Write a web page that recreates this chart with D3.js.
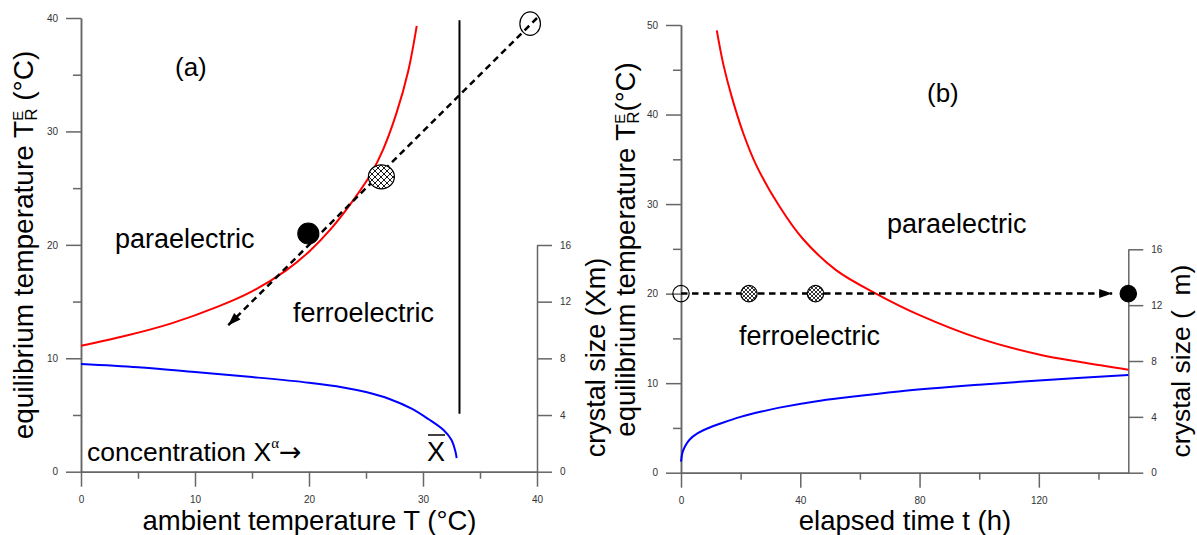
<!DOCTYPE html>
<html>
<head>
<meta charset="utf-8">
<script src="https://cdn.jsdelivr.net/npm/d3@7"></script>
<style>
body { margin: 0; background: #fff; }
svg text { font-family: "Liberation Sans", Arial, sans-serif; }
</style>
</head>
<body>
<div id="chart"></div>
<script>
// ---- data ----
// panel (a): equilibrium temperature vs ambient temperature
var redA_T = [0, 4, 8, 12, 15, 18, 20, 22, 24, 25.4, 26.5, 27.7, 28.7, 29.45];
var redA_v = [11.1, 12.0, 13.1, 14.55, 15.9, 17.75, 19.4, 21.5, 24.1, 26.2, 28.4, 31.7, 35.3, 39.3];
// crystal size (right axis) vs concentration
var blueA_T = [0, 5, 10, 15, 20, 23, 25, 27, 29, 30.5, 31.8, 32.5, 32.85, 32.95];
var blueA_r = [7.6, 7.37, 7.03, 6.68, 6.28, 5.95, 5.62, 5.15, 4.45, 3.7, 2.94, 2.24, 1.4, 0.95];
var vlineA_T = 33.2;
var vlineA_v = [5.1, 39.8];
var arrowA_T = [40, 12.9];
var arrowA_v = [40, 12.9];
var markA_T = [39.4, 26.35, 19.94];
var markA_v = [39.5, 26.0, 21.0];
var markA_kind = ["open", "hatch", "filled"];

// panel (b): equilibrium temperature vs elapsed time
var redB_t = [12, 14.2, 17, 21, 25.3, 33.1, 40.9, 52.1, 66, 80, 100, 120, 135, 150];
var redB_v = [49.4, 45.6, 42.0, 37.8, 34.3, 29.7, 26.1, 22.6, 19.9, 17.6, 15.0, 13.2, 12.3, 11.5];
var blueB_t = [0, 0.5, 1.5, 3, 5.5, 8.6, 14, 20, 27, 33, 45, 55, 73, 100, 120, 150];
var blueB_r = [0.79, 1.45, 1.95, 2.4, 2.82, 3.15, 3.58, 4.0, 4.38, 4.66, 5.1, 5.38, 5.82, 6.3, 6.6, 7.0];
var arrowB_t = [0, 144.6];
var arrowB_v = [20, 20];
var markB_t = [0, 22.8, 45.1, 150];
var markB_v = [20, 20, 20, 20];
var markB_kind = ["open", "hatch", "hatch", "filled"];

// ticks
var xA_ticks = [0, 10, 20, 30, 40], xA_minor = [5, 15, 25, 35];
var yA_ticks = [0, 10, 20, 30, 40], yA_minor = [5, 15, 25, 35];
var xB_ticks = [0, 40, 80, 120], xB_minor = [20, 60, 100, 140];
var yB_ticks = [0, 10, 20, 30, 40, 50], yB_minor = [5, 15, 25, 35, 45];
var size_ticks = [0, 4, 8, 12, 16];

// ---- scales ----
var xA = d3.scaleLinear().domain([0, 40]).range([81, 537]);
var yA = d3.scaleLinear().domain([0, 40]).range([471.7, 18]);
var yA2 = d3.scaleLinear().domain([0, 16]).range([471.7, 245]);
var xB = d3.scaleLinear().domain([0, 150]).range([681, 1128.3]);
var yB = d3.scaleLinear().domain([0, 50]).range([472.7, 25]);
var yB2 = d3.scaleLinear().domain([0, 16]).range([472.7, 249.3]);

var svg = d3.select("#chart").append("svg")
    .attr("width", 1197)
    .attr("height", 535);

var defs = svg.append("defs");

function addHatch(id, s, w) {
    var p = defs.append("pattern")
        .attr("id", id)
        .attr("patternUnits", "userSpaceOnUse")
        .attr("width", s)
        .attr("height", s);
    p.append("rect").attr("width", s).attr("height", s).attr("fill", "#fff");
    p.append("path")
        .attr("d", "M0,0L" + s + "," + s + "M" + s + ",0L0," + s)
        .attr("stroke", "#000")
        .attr("stroke-width", w);
}
addHatch("hatchA", 6, 0.9);
addHatch("hatchB", 4, 0.8);

defs.append("marker")
    .attr("id", "head")
    .attr("markerUnits", "userSpaceOnUse")
    .attr("viewBox", "0 -6 14 12")
    .attr("refX", 13)
    .attr("refY", 0)
    .attr("markerWidth", 14)
    .attr("markerHeight", 12)
    .attr("orient", "auto")
    .append("path")
    .attr("d", "M0,-4.5L13,0L0,4.5Z")
    .attr("fill", "#000");

// ---- axes ----
function addAxis(axis, tx, ty) {
    var g = svg.append("g")
        .attr("transform", "translate(" + tx + "," + ty + ")")
        .call(axis);
    g.attr("font-family", null).attr("font-size", null);
    g.selectAll(".domain, .tick line").attr("stroke", "#666").attr("stroke-width", 1.5);
    g.selectAll(".tick text").attr("fill", "#333").style("font-size", "10px");
    return g;
}

// panel (a)
addAxis(d3.axisLeft(yA).tickValues(yA_minor).tickSize(8).tickFormat("").tickSizeOuter(0), xA(0), 0);
addAxis(d3.axisLeft(yA).tickValues(yA_ticks).tickSize(15).tickPadding(8).tickSizeOuter(0), xA(0), 0);
addAxis(d3.axisBottom(xA).tickValues(xA_minor).tickSize(7).tickFormat("").tickSizeOuter(0), 0, yA(0));
addAxis(d3.axisBottom(xA).tickValues(xA_ticks).tickSize(15).tickPadding(9).tickSizeOuter(0), 0, yA(0));
addAxis(d3.axisRight(yA2).tickValues(size_ticks).tickSize(15).tickPadding(8).tickSizeOuter(0), xA(40), 0);

// panel (b)
addAxis(d3.axisLeft(yB).tickValues(yB_minor).tickSize(8).tickFormat("").tickSizeOuter(0), xB(0), 0);
addAxis(d3.axisLeft(yB).tickValues(yB_ticks).tickSize(15).tickPadding(8).tickSizeOuter(0), xB(0), 0);
addAxis(d3.axisBottom(xB).tickValues(xB_minor).tickSize(7).tickFormat("").tickSizeOuter(0), 0, yB(0));
addAxis(d3.axisBottom(xB).tickValues(xB_ticks).tickSize(15).tickPadding(9).tickSizeOuter(0), 0, yB(0));
addAxis(d3.axisRight(yB2).tickValues(size_ticks).tickSize(15).tickPadding(8).tickSizeOuter(0), xB(150), 0);

// ---- curves ----
function curve(xs, ys, sx, sy, color) {
    var line = d3.line()
        .x(function(d) { return sx(d[0]); })
        .y(function(d) { return sy(d[1]); })
        .curve(d3.curveCatmullRom.alpha(0.5));
    svg.append("path")
        .datum(d3.zip(xs, ys))
        .attr("d", line)
        .attr("fill", "none")
        .attr("stroke", color)
        .attr("stroke-width", 2);
}
curve(redA_T, redA_v, xA, yA, "#ff0000");
curve(blueA_T, blueA_r, xA, yA2, "#0000ff");
curve(redB_t, redB_v, xB, yB, "#ff0000");
curve(blueB_t, blueB_r, xB, yB2, "#0000ff");

// vertical boundary line in (a)
svg.append("line")
    .attr("x1", xA(vlineA_T)).attr("x2", xA(vlineA_T))
    .attr("y1", yA(vlineA_v[0])).attr("y2", yA(vlineA_v[1]))
    .attr("stroke", "#000")
    .attr("stroke-width", 2);

// dashed arrows
function arrow(xs, ys, sx, sy) {
    svg.append("line")
        .attr("x1", sx(xs[0])).attr("y1", sy(ys[0]))
        .attr("x2", sx(xs[1])).attr("y2", sy(ys[1]))
        .attr("stroke", "#000")
        .attr("stroke-width", 2.5)
        .attr("stroke-dasharray", "6.5,4.5")
        .attr("marker-end", "url(#head)");
}
arrow(arrowA_T, arrowA_v, xA, yA);
arrow(arrowB_t, arrowB_v, xB, yB);

// circles
function marker(cx, cy, rx, ry, kind, hatch) {
    svg.append("ellipse")
        .attr("cx", cx).attr("cy", cy)
        .attr("rx", rx).attr("ry", ry)
        .attr("fill", kind == "filled" ? "#000" : (kind == "hatch" ? "url(#" + hatch + ")" : "none"))
        .attr("stroke", "#000")
        .attr("stroke-width", 1.2);
}
var sizesA = [[10.3, 11.7], [13, 12], [10.5, 10.5]];
for (var i = 0; i < markA_T.length; i++) {
    marker(xA(markA_T[i]), yA(markA_v[i]), sizesA[i][0], sizesA[i][1], markA_kind[i], "hatchA");
}
for (var j = 0; j < markB_t.length; j++) {
    marker(xB(markB_t[j]), yB(markB_v[j]), 8.2, 8.2, markB_kind[j], "hatchB");
}

// ---- texts ----
function label(x, y, txt, size) {
    return svg.append("text")
        .attr("x", x).attr("y", y)
        .style("font-size", size + "px")
        .attr("fill", "#000")
        .text(txt);
}
label(175, 76, "(a)", 26);
label(927, 102, "(b)", 26);
label(115, 248, "paraelectric", 27);
label(293, 322, "ferroelectric", 27);
label(887, 233, "paraelectric", 27);
label(739, 345, "ferroelectric", 27);

var conc = label(87, 461, "concentration X", 26.5);
conc.append("tspan").attr("dy", -13).style("font-size", "15px")
    .style("font-family", "'Liberation Serif', serif").text("\u03b1");
conc.append("tspan").attr("dy", 13).style("font-size", "27px")
    .style("font-family", "'DejaVu Sans', sans-serif").text("\u2192");

// X bar
label(427, 461, "X", 27);
svg.append("line")
    .attr("x1", 428).attr("x2", 445)
    .attr("y1", 435).attr("y2", 435)
    .attr("stroke", "#000").attr("stroke-width", 1.5);

// axis titles
svg.append("text").attr("x", 309.5).attr("y", 530).attr("text-anchor", "middle")
    .style("font-size", "27.5px").text("ambient temperature T (\u00b0C)");
svg.append("text").attr("x", 905).attr("y", 530).attr("text-anchor", "middle")
    .style("font-size", "27.5px").text("elapsed time t (h)");

function tempTitle(x, y, size, tail) {
    var t = svg.append("text")
        .attr("transform", "translate(" + x + "," + y + ") rotate(-90)")
        .attr("text-anchor", "middle")
        .style("font-size", size + "px")
        .text("equilibrium temperature T");
    t.append("tspan").attr("dy", -10).style("font-size", "15px").text("E");
    t.append("tspan").attr("dx", -10).attr("dy", 14).style("font-size", "17px").text("R");
    t.append("tspan").attr("dy", -4).style("font-size", size + "px").text(tail);
}
tempTitle(33, 245, 28, " (\u00b0C)");
tempTitle(635, 249.5, 27.5, "(\u00b0C)");

svg.append("text")
    .attr("transform", "translate(605,357.5) rotate(-90)")
    .attr("text-anchor", "middle")
    .style("font-size", "27px")
    .text("crystal size (Xm)");
svg.append("text")
    .attr("transform", "translate(1190,361) rotate(-90)")
    .attr("text-anchor", "middle")
    .style("font-size", "26.5px")
    .text("crystal size (\u00a0\u00a0m)");
</script>
</body>
</html>
